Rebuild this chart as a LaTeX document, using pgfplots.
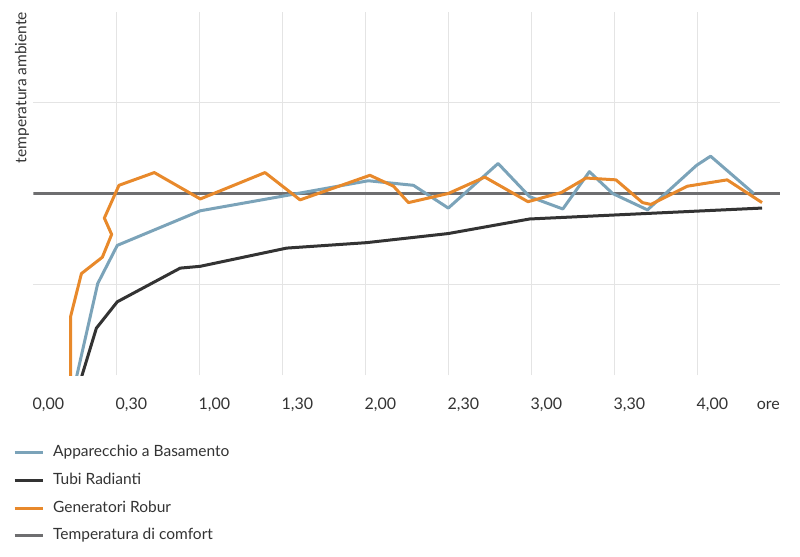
\documentclass[border=0pt]{standalone}
\usepackage{fontspec}
\setmainfont{Lato}
\usepackage{pgfplots}
\pgfplotsset{compat=1.18}
\definecolor{cblue}{HTML}{7BA3B9}
\definecolor{cblack}{HTML}{333333}
\definecolor{corange}{HTML}{E8892B}
\definecolor{ccomf}{HTML}{6E6E70}
\definecolor{cgrid}{HTML}{E4E4E4}
\definecolor{ctext}{HTML}{333333}
\begin{document}
\begin{tikzpicture}[font=\fontsize{7.75pt}{9pt}\selectfont, text=ctext]
\useasboundingbox (-16.65pt,-90.75pt) rectangle (383.35pt,187.75pt);
\begin{axis}[
  at={(0,0)}, anchor=south west,
  scale only axis, width=373.5pt, height=182pt,
  xmin=0, xmax=4.5, ymin=0, ymax=4,
  clip mode=individual,
  axis line style={draw=none},
  major tick length=0pt,
  xtick={0.5,1,...,4},
  xticklabels={0{,}30,1{,}00,1{,}30,2{,}00,2{,}30,3{,}00,3{,}30,4{,}00},
  extra x ticks={0},
  extra x tick labels={0{,}00},
  extra x tick style={grid=none},
  ytick={1,3},
  yticklabel=\empty,
  xmajorgrids, ymajorgrids,
  grid style={cgrid, line width=0.5pt},
  xticklabel style={anchor=north west, inner sep=0pt, yshift=-11.25pt, xshift=-0.5pt, text=ctext, font=\fontsize{8pt}{9pt}\selectfont},
  legend cell align=left,
  legend style={at={(-0.0356,-0.18)}, anchor=north west, draw=none, fill=none,
    row sep=6.9pt, column sep=4.5pt,
    nodes={inner sep=0pt, text height=5.5pt, text depth=1.5pt, text=ctext},
    font=\fontsize{7.75pt}{9pt}\selectfont},
  legend image code/.code={\draw[#1] (0pt,0pt) -- (14pt,0pt);},
  line join=round,
]
\addlegendimage{cblue, line width=1.5pt}
\addlegendentry{Apparecchio a Basamento}
\addlegendimage{cblack, line width=1.5pt}
\addlegendentry{Tubi Radianti}
\addlegendimage{corange, line width=1.5pt}
\addlegendentry{Generatori Robur}
\addlegendimage{ccomf, line width=1.5pt}
\addlegendentry{Temperatura di comfort}

\addplot[ccomf, line width=1.7pt, forget plot] coordinates {(0,2) (4.5,2)};

\addplot[cblue, line width=1.5pt, forget plot] coordinates {
(0.26,-0.02) (0.388,1.01) (0.506,1.43) (1.006,1.81) (1.5,1.97) (2.018,2.14) (2.29,2.09)
(2.5,1.84) (2.80,2.33) (2.99,1.965) (3.19,1.83) (3.35,2.24) (3.49,2.0) (3.70,1.82)
(3.996,2.31) (4.08,2.41) (4.34,2.0)};

\addplot[cblack, line width=1.5pt, forget plot] coordinates {
(0.29,-0.02) (0.38,0.52) (0.506,0.81) (0.885,1.18) (1.006,1.20) (1.526,1.40)
(2.008,1.46) (2.5,1.56) (2.99,1.72) (4.39,1.84)};

\addplot[corange, line width=1.5pt, forget plot] coordinates {
(0.225,-0.02) (0.225,0.65) (0.29,1.12) (0.416,1.30) (0.472,1.55) (0.428,1.73)
(0.516,2.09) (0.729,2.23) (1.006,1.94) (1.396,2.23) (1.607,1.93) (2.028,2.20)
(2.17,2.08) (2.26,1.90) (2.5,2.0) (2.72,2.18) (2.98,1.91) (3.18,2.01) (3.33,2.17)
(3.51,2.15) (3.67,1.90) (3.72,1.88) (3.94,2.08) (4.18,2.15) (4.39,1.90)};

\node[anchor=north east, inner sep=0pt, yshift=-11.25pt, font=\fontsize{8pt}{9pt}\selectfont] at (axis cs:4.5,0) {\vphantom{0}ore};
\node[rotate=90, anchor=east, inner sep=0pt] at (rel axis cs:-0.0151,1) {temperatura ambiente};
\end{axis}
\end{tikzpicture}
\end{document}
